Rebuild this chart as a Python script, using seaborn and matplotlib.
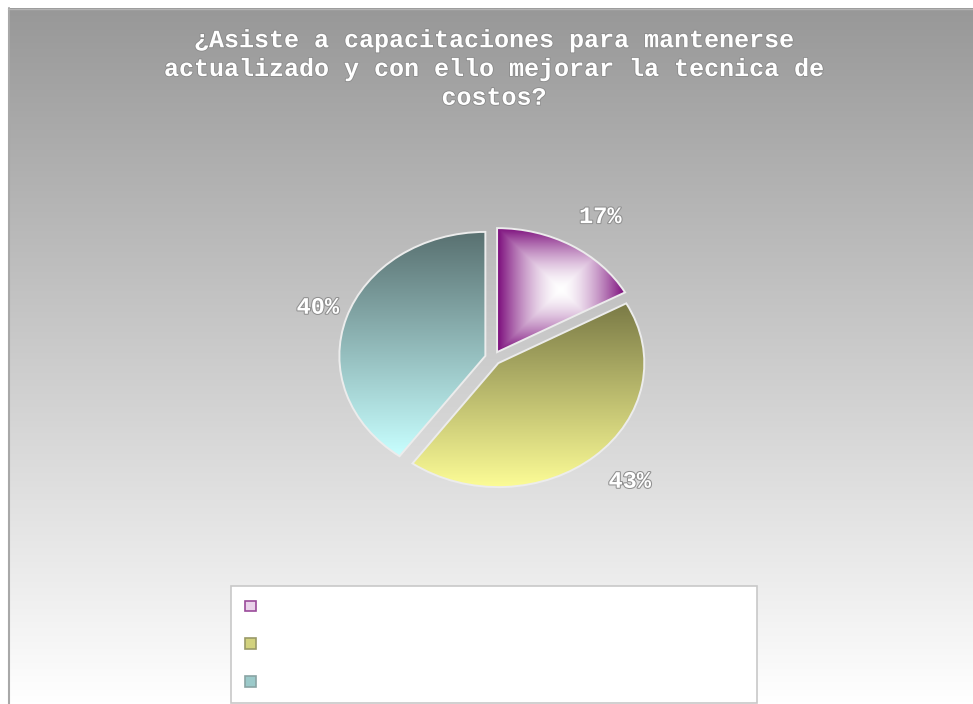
import numpy as np
import matplotlib
matplotlib.use("Agg")
import matplotlib.pyplot as plt
import matplotlib.patheffects as pe
from matplotlib.patches import Patch
import seaborn as sns

# ---- data -------------------------------------------------------------
title_lines = [
    "¿Asiste a capacitaciones para mantenerse",
    "actualizado y con ello mejorar la tecnica de",
    "costos?",
]
categories = ["", "", ""]          # legend entries (no visible caption)
shares = [17, 43, 40]              # percent of answers
# gradient end colours per slice: (dark, light)
slice_dark = ["#7a0a7a", "#7a7a46", "#587070"]
slice_light = ["#ffffff", "#fcfc96", "#c8ffff"]
slice_style = ["center", "vertical", "vertical"]

# ---- style ------------------------------------------------------------
sns.set_style("white")
plt.rcParams["font.family"] = ["Liberation Mono", "DejaVu Sans"]

W, H = 973, 704
fig = plt.figure(figsize=(W / 100, H / 100), dpi=100)
fig.patch.set_facecolor("white")

# ---- chart-area background: grey to white vertical gradient ------------
bg = fig.add_axes([0, 0, 1, 1], zorder=0)
bg_cmap = sns.blend_palette(["#989898", "#ffffff"], as_cmap=True)
bg.imshow(np.linspace(0, 1, 512)[:, None], cmap=bg_cmap, aspect="auto",
          extent=[8, W, H, 8], origin="upper", interpolation="bilinear")
bg.plot([8.5, 8.5], [8, H], color="#a8a8a8", lw=1.5)
bg.plot([8, W], [8.5, 8.5], color="#b4b4b4", lw=1.0)
bg.set_xlim(0, W)
bg.set_ylim(H, 0)
bg.axis("off")

# ---- title -------------------------------------------------------------
title_fx = [pe.withStroke(linewidth=1.2, foreground="#8a8a8a")]
fig.text(494 / W, 1 - 69 / H, "\n".join(title_lines), ha="center", va="center",
         multialignment="center", fontsize=18, fontweight="bold",
         color="white", linespacing=1.25, path_effects=title_fx, zorder=5)

# ---- pie ---------------------------------------------------------------
cx, cy, rx, ry = 493, 358, 146, 124
lim = 1.2
ax = fig.add_axes([(cx - lim * rx) / W, 1 - (cy + lim * ry) / H,
                   2 * lim * rx / W, 2 * lim * ry / H], zorder=2)
ax.patch.set_alpha(0)

wedges, texts, autotexts = ax.pie(
    shares, startangle=90, counterclock=False, explode=[0.055] * 3,
    autopct="%.0f%%", pctdistance=1.27,
    wedgeprops=dict(facecolor="none", edgecolor="#ececec", linewidth=1.4),
)


def wedge_box(w):
    t = np.radians(np.linspace(w.theta1, w.theta2, 200))
    xs = np.concatenate([[w.center[0]], w.center[0] + w.r * np.cos(t)])
    ys = np.concatenate([[w.center[1]], w.center[1] + w.r * np.sin(t)])
    return xs.min(), xs.max(), ys.min(), ys.max()


def to_rgb(c):
    return np.array(matplotlib.colors.to_rgb(c))


n = 300
for w, dark, light, style in zip(wedges, slice_dark, slice_light, slice_style):
    x0, x1, y0, y1 = wedge_box(w)
    u, v = np.meshgrid(np.linspace(-1, 1, n), np.linspace(-1, 1, n))
    if style == "center":
        f = np.maximum(np.abs(u), np.abs(v)) ** 1.6   # rectangular from centre
    else:
        f = (1 + v) / 2                              # top dark, bottom light
    f = np.clip(f, 0, 1)[..., None]
    img = to_rgb(light) * (1 - f) + to_rgb(dark) * f
    im = ax.imshow(img, extent=[x0, x1, y0, y1], origin="lower",
                   aspect="auto", interpolation="bilinear", zorder=1)
    im.set_clip_path(w)
    w.set_zorder(2)

label_fx = [pe.withStroke(linewidth=1.5, foreground="#909090")]
for t in autotexts:
    t.set_color("white")
    t.set_fontsize(17)
    t.set_fontweight("bold")
    t.set_path_effects(label_fx)
    t.set_zorder(3)
    x, y = t.get_position()
    t.set_position((x + 0.06, y))

ax.set_aspect("auto")
ax.set_xlim(-lim, lim)
ax.set_ylim(-lim, lim)
ax.axis("off")

# ---- legend ------------------------------------------------------------
legend_face = ["#ead2ea", "#d2d27e", "#9ccaca"]
legend_edge = ["#9a4a9a", "#9a9a68", "#8aa4a4"]
handles = [Patch(facecolor=fc, edgecolor=ec, linewidth=1.2)
           for fc, ec in zip(legend_face, legend_edge)]
leg = fig.legend(handles, categories, loc="upper left",
                 bbox_to_anchor=(231 / W, 1 - 702 / H, 526 / W, 116 / H),
                 mode="expand", borderaxespad=0, fontsize=10,
                 handlelength=0.8, handleheight=0.8, labelspacing=1.7,
                 borderpad=1.0, frameon=True, fancybox=False)
leg.get_frame().set_edgecolor("#c8c8c8")
leg.get_frame().set_facecolor("white")
leg.get_frame().set_alpha(1)
leg.get_frame().set_linewidth(1.2)

fig.savefig("out.png", dpi=100, facecolor=fig.get_facecolor())
